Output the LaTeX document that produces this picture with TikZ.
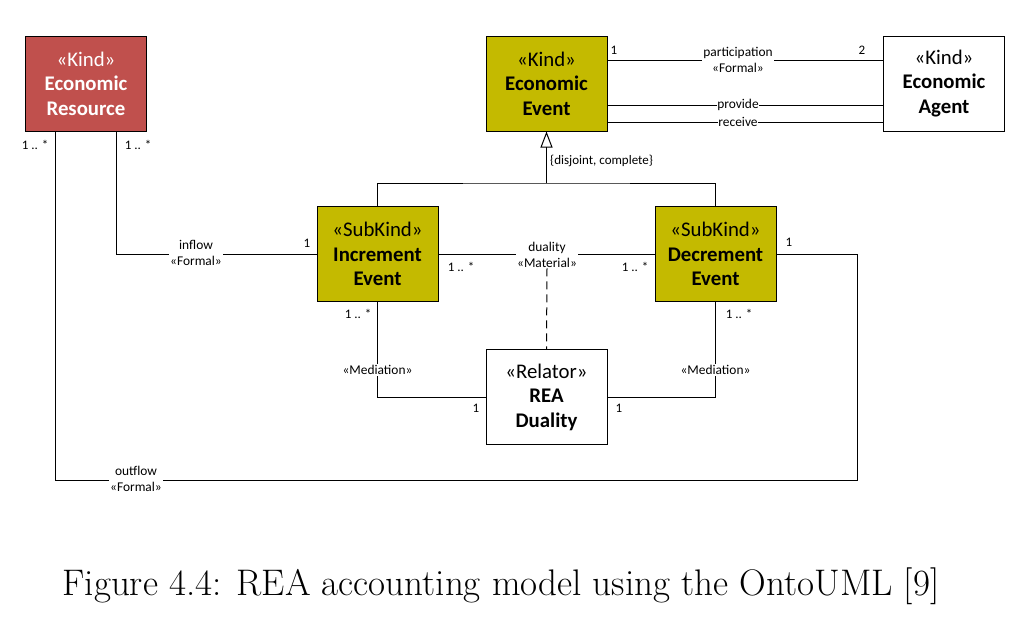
\documentclass[tikz,border=0pt]{standalone}
\usepackage{fontspec}
\newfontfamily\carl{Carlito}
\usetikzlibrary{arrows.meta}
\definecolor{resred}{HTML}{C0504D}
\definecolor{olive}{HTML}{C4BA00}
\begin{document}
\begin{tikzpicture}[x=1pt,y=-1pt,
  umlbox/.style={draw, line width=1pt, minimum width=121pt, minimum height=95pt, align=center,
    font=\carl\fontsize{20.8}{24.5}\selectfont, inner sep=0pt},
  lbl/.style={font=\carl\fontsize{13.4}{16}\selectfont, fill=white, inner sep=1pt, align=center},
  mult/.style={font=\carl\fontsize{13}{15}\selectfont, inner sep=0pt},
  conn/.style={line width=1pt}]
\useasboundingbox (0,0) rectangle (1034,622);
% boxes
\node[umlbox, fill=resred, text=white] (er) at (86,83.5) {«Kind»\\\textbf{Economic}\\\textbf{Resource}};
\node[umlbox, fill=olive] (ee) at (546.5,83.5) {«Kind»\\\textbf{Economic}\\\textbf{Event}};
\node[umlbox] (ea) at (944,83.5) {«Kind»\\\textbf{Economic}\\\textbf{Agent}};
\node[umlbox, fill=olive] (ie) at (377.5,254) {«SubKind»\\\textbf{Increment}\\\textbf{Event}};
\node[umlbox, fill=olive] (de) at (715.5,254) {«SubKind»\\\textbf{Decrement}\\\textbf{Event}};
\node[umlbox] (rea) at (546.5,397) {«Relator»\\\textbf{REA}\\\textbf{Duality}};
% participation / provide / receive
\draw[conn] (ee.east |- 0,60) -- (ea.west |- 0,60);
\node[lbl] (lpart) at (738,60) {participation\\«Formal»};
\node[mult] (mp1) at (614,50) {1};
\node[mult] (mp2) at (862,50) {2};
\draw[conn] (ee.east |- 0,105) -- (ea.west |- 0,105);
\node[lbl, inner sep=0.5pt] (lprov) at (738,105) {provide};
\draw[conn] (ee.east |- 0,122) -- (ea.west |- 0,122);
\node[lbl, inner sep=0.5pt] (lrec) at (738,122) {receive};
% generalization
\coordinate (gj) at (546.5,183);
\draw[conn] (ie.north) |- (gj) -| (de.north);
\draw[conn, -{Triangle[open,length=16pt,width=12pt]}] (gj) -- (ee.south);
\node[mult, anchor=west] (lgen) at (550,161) {\{disjoint, complete\}};
% inflow
\draw[conn] (er.south -| 116,0) |- (ie.west);
\node[lbl] (linf) at (196,253) {inflow\\«Formal»};
\node[mult] (mi1) at (138,145) {1 .. *};
\node[mult] (mi2) at (307,243) {1};
% outflow
\coordinate (oc) at (857,480);
\draw[conn] (er.south -| 55,0) |- (oc) |- (de.east);
\node[lbl] (lout) at (136,479) {outflow\\«Formal»};
\node[mult] (mo1) at (35,145) {1 .. *};
\node[mult] (mo2) at (789,242) {1};
% duality
\draw[conn] (ie.east) -- (de.west);
\node[lbl] (ldual) at (547,254.5) {duality\\«Material»};
\draw[conn, dash pattern=on 8pt off 5pt] (ldual.south) -- (rea.north);
\node[mult] (md1) at (461,267) {1 .. *};
\node[mult] (md2) at (635,267) {1 .. *};
% mediations
\draw[conn] (ie.south) |- (rea.west);
\node[lbl] (lmed1) at (377.5,370) {«Mediation»};
\node[mult] (mm1) at (358,314) {1 .. *};
\node[mult] (mm2) at (476,408) {1};
\draw[conn] (de.south) |- (rea.east);
\node[lbl] (lmed2) at (715.5,370) {«Mediation»};
\node[mult] (mm3) at (739,314) {1 .. *};
\node[mult] (mm4) at (619,408) {1};
% caption
\node[font=\fontsize{37}{42}\selectfont, inner sep=0pt] (cap) at (501,586) {Figure 4.4: REA accounting model using the OntoUML [9]};
\end{tikzpicture}
\end{document}
